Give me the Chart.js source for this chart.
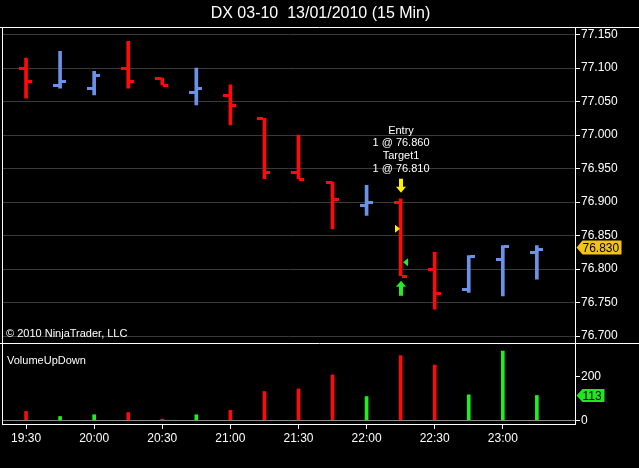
<!DOCTYPE html>
<html>
<head>
<meta charset="utf-8">
<title>DX 03-10 15 Min</title>
<script src="https://cdn.jsdelivr.net/npm/chart.js@4.4.1/dist/chart.umd.min.js"></script>
<style>
  html, body { margin: 0; padding: 0; background: #000; overflow: hidden; }
  canvas { display: block; }
</style>
</head>
<body>
<canvas id="dxChart" width="639" height="468"></canvas>
<script>
// 15 minute bars, DX 03-10, 13/01/2010
const timeLabels = ['19:30', '19:45', '20:00', '20:15', '20:30', '20:45', '21:00', '21:15',
                    '21:30', '21:45', '22:00', '22:15', '22:30', '22:45', '23:00', '23:15'];
const opens  = [77.100, 77.075, 77.070, 77.100, 77.085, 77.065, 77.060, 77.025,
                76.945, 76.930, 76.895, 76.900, 76.800, 76.770, 76.815, 76.825];
const highs  = [77.115, 77.125, 77.095, 77.140, 77.085, 77.100, 77.075, 77.025,
                77.000, 76.930, 76.925, 76.905, 76.825, 76.820, 76.835, 76.835];
const lows   = [77.055, 77.070, 77.060, 77.070, 77.075, 77.045, 77.015, 76.935,
                76.935, 76.860, 76.880, 76.790, 76.740, 76.765, 76.760, 76.785];
const closes = [77.080, 77.080, 77.090, 77.080, 77.075, 77.070, 77.045, 76.945,
                76.935, 76.905, 76.900, 76.790, 76.765, 76.820, 76.835, 76.830];
const volumes = [40, 17, 25, 35, 5, 25, 45, 131, 143, 207, 108, 295, 252, 116, 316, 113];

const priceTicks = [76.700, 76.750, 76.800, 76.850, 76.900, 76.950, 77.000, 77.050, 77.100, 77.150];
const volumeTicks = [0, 200];
const timeTicks = [0, 2, 4, 6, 8, 10, 12, 14];

// the trade
const tradeBar = 11;
const entryPrice = 76.860;
const targetPrice = 76.810;

const RED = '#ff0a0a';
const BLUE = '#6b92e6';
const VOL_GREEN = '#1fef1f';

function isUp(i) { return closes[i] >= opens[i]; }

const rangeData = timeLabels.map((t, i) => ({ x: i, y: [lows[i], highs[i]] }));
const volumeData = timeLabels.map((t, i) => ({ x: i, y: volumes[i] }));

// open / close ticks on each bar
const ohlcTicks = {
  id: 'ohlcTicks',
  afterDatasetsDraw(chart) {
    const { ctx } = chart;
    const x = chart.scales.x, y = chart.scales.y;
    ctx.save();
    opens.forEach((o, i) => {
      const px = Math.round(x.getPixelForValue(i));
      ctx.fillStyle = isUp(i) ? BLUE : RED;
      const yo = Math.round(y.getPixelForValue(o));
      const yc = Math.round(y.getPixelForValue(closes[i]));
      ctx.fillRect(px - 7, yo - 1, 6, 3);
      ctx.fillRect(px + 1, yc - 1, 5, 3);
    });
    ctx.restore();
  }
};

function tag(ctx, x0, yc, w, h, fill, text) {
  ctx.beginPath();
  ctx.moveTo(x0, yc);
  ctx.lineTo(x0 + 6, yc - h / 2);
  ctx.lineTo(x0 + w, yc - h / 2);
  ctx.lineTo(x0 + w, yc + h / 2);
  ctx.lineTo(x0 + 6, yc + h / 2);
  ctx.closePath();
  ctx.fillStyle = fill;
  ctx.fill();
  ctx.fillStyle = '#000';
  ctx.textAlign = 'left';
  ctx.textBaseline = 'middle';
  ctx.fillText(text, x0 + 6, yc + 1);
}

const overlay = {
  id: 'overlay',
  beforeDraw(chart) {
    const { ctx, width, height } = chart;
    ctx.save();
    ctx.fillStyle = '#000';
    ctx.fillRect(0, 0, width, height);
    ctx.restore();
  },
  afterDraw(chart) {
    const { ctx, chartArea, width } = chart;
    const x = chart.scales.x, y = chart.scales.y, v = chart.scales.v;
    ctx.save();

    // frame
    ctx.strokeStyle = '#fff';
    ctx.lineWidth = 1;
    ctx.beginPath();
    ctx.moveTo(0, Math.round(chartArea.top) + 0.5);
    ctx.lineTo(width, Math.round(chartArea.top) + 0.5);
    ctx.moveTo(0, Math.round(y.bottom) + 0.5);
    ctx.lineTo(width, Math.round(y.bottom) + 0.5);
    ctx.moveTo(Math.round(chartArea.left) + 0.5, chartArea.top);
    ctx.lineTo(Math.round(chartArea.left) + 0.5, chartArea.bottom);
    ctx.stroke();

    // panel texts
    ctx.fillStyle = '#fff';
    ctx.font = '11px "Liberation Sans", Arial, sans-serif';
    ctx.textAlign = 'left';
    ctx.textBaseline = 'middle';
    ctx.fillText('\u00A9 2010 NinjaTrader, LLC', chartArea.left + 4, y.bottom - 9);
    ctx.fillText('VolumeUpDown', chartArea.left + 5, v.top + 18);

    // trade markers
    const bx = Math.round(x.getPixelForValue(tradeBar));
    const yHigh = y.getPixelForValue(highs[tradeBar]);
    const yLow = y.getPixelForValue(lows[tradeBar]);

    // yellow down arrow above the bar
    const aTip = yHigh - 6, aTop = aTip - 14;
    ctx.fillStyle = '#ffee00';
    ctx.fillRect(bx - 2, aTop, 4, 9);
    ctx.beginPath();
    ctx.moveTo(bx - 5, aTop + 8);
    ctx.lineTo(bx + 5, aTop + 8);
    ctx.lineTo(bx, aTip);
    ctx.closePath();
    ctx.fill();

    // green up arrow below the bar
    const gTip = yLow + 5;
    ctx.fillStyle = '#22ee22';
    ctx.beginPath();
    ctx.moveTo(bx - 5, gTip + 6);
    ctx.lineTo(bx + 5, gTip + 6);
    ctx.lineTo(bx, gTip);
    ctx.closePath();
    ctx.fill();
    ctx.fillRect(bx - 2, gTip + 5, 4, 10);

    // entry / target fill triangles
    const ye = y.getPixelForValue(entryPrice);
    ctx.fillStyle = '#ffee00';
    ctx.beginPath();
    ctx.moveTo(bx - 6, ye - 4);
    ctx.lineTo(bx - 1, ye);
    ctx.lineTo(bx - 6, ye + 4);
    ctx.closePath();
    ctx.fill();
    const yt = y.getPixelForValue(targetPrice);
    ctx.fillStyle = '#22ee22';
    ctx.beginPath();
    ctx.moveTo(bx + 7, yt - 4);
    ctx.lineTo(bx + 2, yt);
    ctx.lineTo(bx + 7, yt + 4);
    ctx.closePath();
    ctx.fill();

    // trade text
    const lines = ['Entry', '1 @ ' + entryPrice.toFixed(3), 'Target1', '1 @ ' + targetPrice.toFixed(3)];
    ctx.fillStyle = '#fff';
    ctx.font = '11px "Liberation Sans", Arial, sans-serif';
    ctx.textAlign = 'center';
    lines.forEach((s, k) => {
      ctx.fillText(s, bx, aTop - 10 - (lines.length - 1 - k) * 12.7);
    });

    // last value tags
    ctx.font = '12px "Liberation Sans", Arial, sans-serif';
    const last = closes.length - 1;
    tag(ctx, y.left + 1.5, y.getPixelForValue(closes[last]) - 1.5, 45, 14, '#f2c417', closes[last].toFixed(3));
    tag(ctx, v.left + 1.5, v.getPixelForValue(volumes[last]), 28, 13, '#22e622', String(volumes[last]));

    ctx.restore();
  }
};

const ctx = document.getElementById('dxChart').getContext('2d');
Chart.defaults.font.family = '"Liberation Sans", Arial, sans-serif';
Chart.defaults.color = '#fff';

const dxChart = new Chart(ctx, {
  type: 'bar',
  data: {
    datasets: [{
      label: 'Range',
      data: rangeData,
      yAxisID: 'y',
      grouped: false,
      barThickness: 3,
      borderWidth: 0,
      backgroundColor: timeLabels.map((t, i) => isUp(i) ? BLUE : RED)
    }, {
      label: 'VolumeUpDown',
      data: volumeData,
      yAxisID: 'v',
      grouped: false,
      barThickness: 3,
      borderWidth: 0,
      backgroundColor: timeLabels.map((t, i) => isUp(i) ? VOL_GREEN : RED)
    }]
  },
  options: {
    responsive: false,
    animation: false,
    devicePixelRatio: 1,
    layout: { padding: { left: 2, right: 0, top: 0, bottom: 0 } },
    plugins: {
      legend: { display: false },
      tooltip: { enabled: false },
      title: {
        display: true,
        text: 'DX 03-10  13/01/2010 (15 Min)',
        color: '#fff',
        font: { size: 16, weight: 'normal' },
        padding: { top: 4, bottom: 4 }
      }
    },
    scales: {
      x: {
        type: 'linear',
        min: -0.706,
        max: 16.12,
        offset: false,
        afterBuildTicks: s => { s.ticks = timeTicks.map(t => ({ value: t })); },
        afterFit: s => { s.height = 44; },
        grid: { drawOnChartArea: false, offset: false, tickLength: 5, tickColor: '#fff' },
        border: { color: '#fff' },
        ticks: {
          color: '#fff',
          padding: 2,
          maxRotation: 0,
          autoSkip: false,
          font: { size: 12 },
          callback: val => timeLabels[val]
        }
      },
      y: {
        type: 'linear',
        position: 'right',
        stack: 'panes',
        stackWeight: 316,
        min: 76.6896,
        max: 77.161,
        afterBuildTicks: s => { s.ticks = priceTicks.map(p => ({ value: p })); },
        afterFit: s => { s.width = 64; },
        grid: { color: '#3a3a3a', tickLength: 5, tickColor: '#fff' },
        border: { color: '#fff' },
        ticks: {
          color: '#fff',
          padding: 1,
          font: { size: 12 },
          callback: val => Number(val).toFixed(3)
        }
      },
      v: {
        type: 'linear',
        position: 'right',
        stack: 'panes',
        stackWeight: 81,
        min: -17.3,
        max: 352.6,
        afterBuildTicks: s => { s.ticks = volumeTicks.map(p => ({ value: p })); },
        afterFit: s => { s.width = 64; },
        grid: {
          color: c => (c.tick && c.tick.value === 0) ? '#8a8a8a' : 'rgba(0,0,0,0)',
          tickLength: 5,
          tickColor: '#fff'
        },
        border: { color: '#fff' },
        ticks: {
          color: '#fff',
          padding: 1,
          font: { size: 12 },
          callback: val => String(val)
        }
      }
    }
  },
  plugins: [ohlcTicks, overlay]
});
</script>
</body>
</html>
